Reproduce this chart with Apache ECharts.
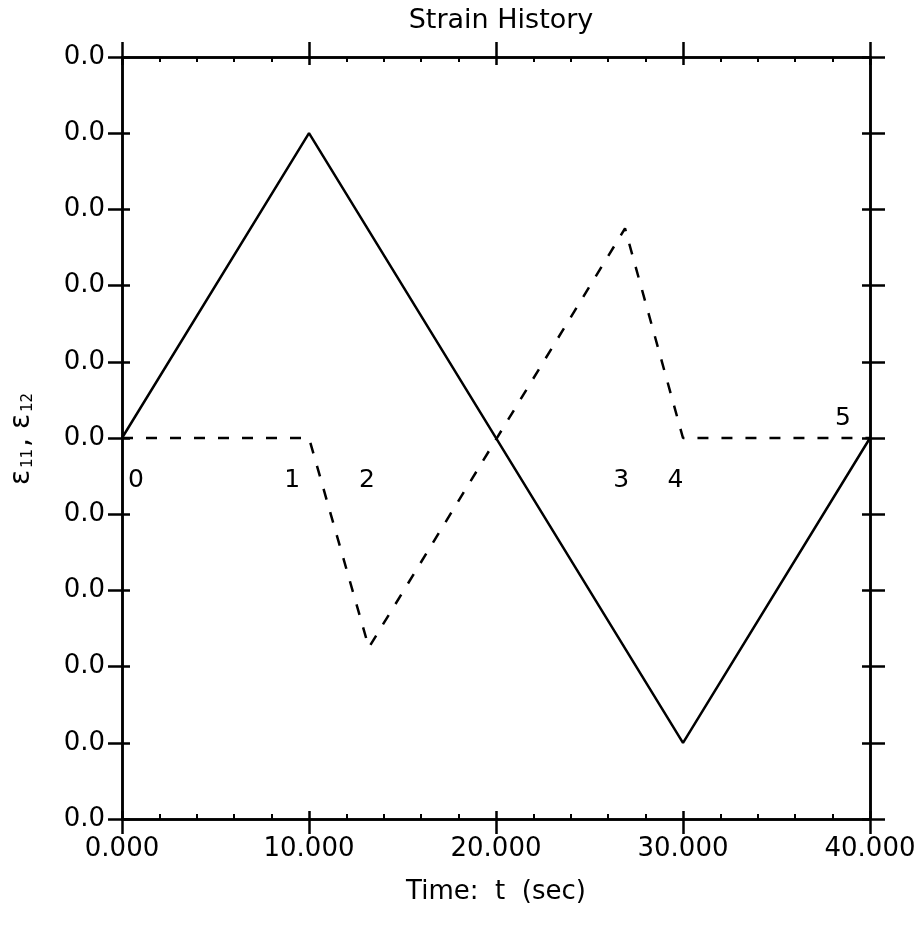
<!DOCTYPE html>
<html>
<head>
<meta charset="utf-8">
<script src="https://cdn.jsdelivr.net/npm/echarts@6/dist/echarts.min.js"></script>
<style>
  html, body { margin: 0; padding: 0; background: #fff; }
  #main { width: 924px; height: 930px; }
</style>
</head>
<body>
<div id="main"></div>
<script>
// strain history data (time in sec, strain)
var e11Time = [0, 10, 30, 40];
var e11Strain = [0, 0.004, -0.004, 0];
var e12Time = [0, 10, 13.2, 26.9, 30, 40];
var e12Strain = [0, 0, -0.00275, 0.00275, 0, 0];
// point labels 0..5
var markNames = ['0', '1', '2', '3', '4', '5'];
var markTime = [0.75, 9.1, 13.1, 26.7, 29.6, 38.55];
var markStrain = [-0.00056, -0.00056, -0.00056, -0.00056, -0.00056, 0.00026];

var FONT = 'DejaVu Sans';
var chart = echarts.init(document.getElementById('main'));

function pairs(xs, ys) {
  return xs.map(function (x, i) { return [x, ys[i]]; });
}

var lineStyleAxis = { color: '#000', width: 2.5 };

function xAx(pos, inside, extra) {
  return Object.assign({
    type: 'value', position: pos, min: 0, max: 40, interval: 10, offset: 0,
    axisLine: { show: true, onZero: false, lineStyle: lineStyleAxis },
    axisTick: { show: true, inside: inside, length: inside ? 8 : 15, lineStyle: { color: '#000', width: 2.5 } },
    axisLabel: { show: false },
    splitLine: { show: false }
  }, extra || {});
}
function yAx(pos, inside, extra) {
  return Object.assign({
    type: 'value', position: pos, min: -0.005, max: 0.005, interval: 0.001, offset: 0,
    axisLine: { show: true, onZero: false, lineStyle: lineStyleAxis },
    axisTick: { show: true, inside: inside, length: inside ? 8 : 14, lineStyle: { color: '#000', width: 2.5 } },
    axisLabel: { show: false },
    splitLine: { show: false }
  }, extra || {});
}
var minor = { show: true, splitNumber: 5, length: 5, lineStyle: { color: '#000', width: 2 } };

chart.setOption({
  backgroundColor: '#fff',
  animation: false,
  title: {
    text: 'Strain History', left: 496, textAlign: 'center', top: 2,
    textStyle: { fontFamily: FONT, fontSize: 27, fontWeight: 'normal', color: '#000' }
  },
  grid: { left: 121, right: 54, top: 57, bottom: 111 },
  xAxis: [
    xAx('bottom', false, {
      name: 'Time:  t  (sec)', nameLocation: 'middle', nameGap: 60,
      nameTextStyle: { fontFamily: FONT, fontSize: 26, color: '#000' },
      axisLabel: {
        show: true, margin: 17, fontFamily: FONT, fontSize: 26, color: '#000',
        formatter: function (v) { return v.toFixed(3); }
      }
    }),
    xAx('bottom', true, { minorTick: minor }),
    xAx('top', false),
    xAx('top', true, { minorTick: minor })
  ],
  yAxis: [
    yAx('left', false, {
      name: '{e|ε}{s|11}{e|, ε}{s|12}', nameLocation: 'middle', nameGap: 86, nameRotate: 90,
      nameTextStyle: {
        fontFamily: FONT, color: '#000',
        rich: {
          e: { fontFamily: FONT, fontSize: 28, color: '#000' },
          s: { fontFamily: FONT, fontSize: 15, color: '#000', padding: [12, 2, 0, 2] }
        }
      },
      axisLabel: {
        show: true, margin: 17, fontFamily: FONT, fontSize: 26, color: '#000',
        formatter: function (v) { return (Math.abs(v) < 0.05 ? 0 : v).toFixed(1); }
      }
    }),
    yAx('left', true),
    yAx('right', false, { axisTick: { show: true, inside: false, length: 15, lineStyle: { color: '#000', width: 2.5 } } }),
    yAx('right', true)
  ],
  series: [
    {
      type: 'line', name: 'e11', data: pairs(e11Time, e11Strain),
      xAxisIndex: 0, yAxisIndex: 0, symbol: 'none',
      lineStyle: { color: '#000', width: 2.5 }
    },
    {
      type: 'line', name: 'e12', data: pairs(e12Time, e12Strain),
      xAxisIndex: 0, yAxisIndex: 0, symbol: 'none',
      lineStyle: { color: '#000', width: 2.5, type: [11, 13] }
    },
    {
      type: 'scatter', name: 'marks', xAxisIndex: 0, yAxisIndex: 0,
      symbolSize: 0, silent: true, itemStyle: { opacity: 1 },
      data: markTime.map(function (t, i) { return { name: markNames[i], value: [t, markStrain[i]] }; }),
      label: {
        show: true, position: 'inside', formatter: '{b}',
        fontFamily: FONT, fontSize: 25, color: '#000', opacity: 1
      }
    }
  ]
});
</script>
</body>
</html>
